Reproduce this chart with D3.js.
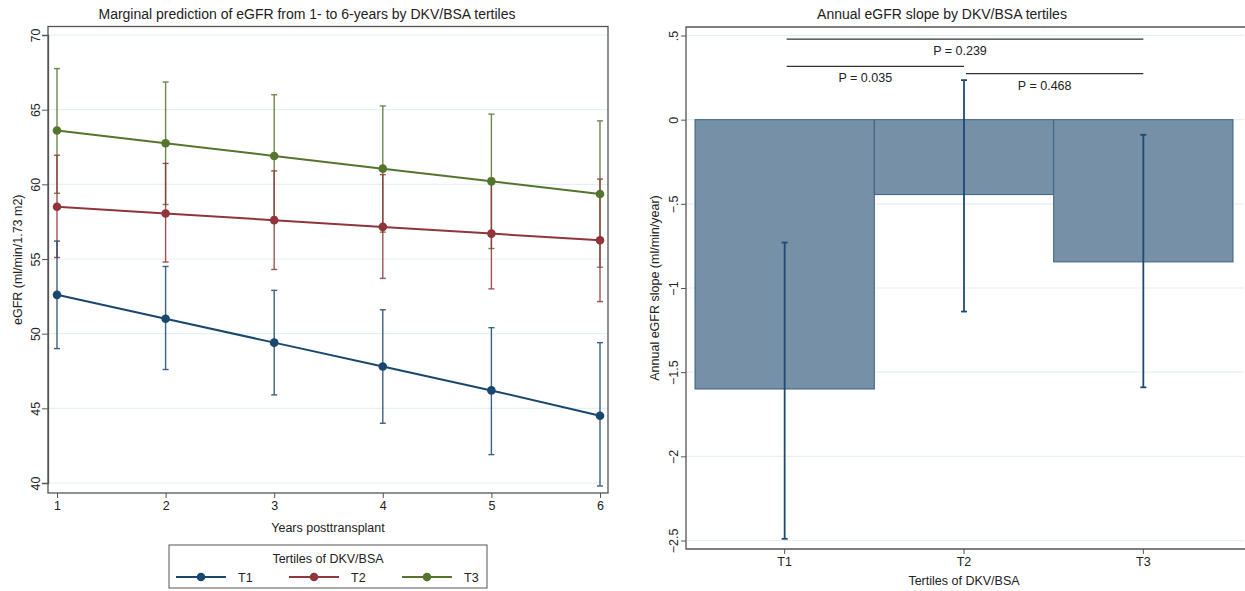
<!DOCTYPE html>
<html>
<head>
<meta charset="utf-8">
<script src="https://cdn.jsdelivr.net/npm/d3@7"></script>
<style>
  body { margin: 0; background: #fff; }
  svg { font-family: "Liberation Sans", Arial, sans-serif; }
</style>
</head>
<body>
<div id="chart"></div>
<script>
// left panel data: marginal eGFR by year and tertile
const years = [1, 2, 3, 4, 5, 6];
const t1Mean = [52.6, 51.0, 49.4, 47.8, 46.2, 44.5];
const t1Lo = [49.0, 47.6, 45.9, 44.0, 41.9, 39.8];
const t1Hi = [56.2, 54.5, 52.9, 51.6, 50.4, 49.4];
const t2Mean = [58.5, 58.05, 57.6, 57.15, 56.7, 56.25];
const t2Lo = [55.1, 54.8, 54.3, 53.7, 53.0, 52.15];
const t2Hi = [61.95, 61.4, 60.9, 60.65, 60.4, 60.35];
const t3Mean = [63.6, 62.75, 61.9, 61.05, 60.2, 59.35];
const t3Lo = [59.4, 58.65, 57.8, 56.8, 55.7, 54.45];
const t3Hi = [67.75, 66.85, 66.0, 65.25, 64.7, 64.25];
const seriesNames = ["T1", "T2", "T3"];
const leftYTicks = [40, 45, 50, 55, 60, 65, 70];

// right panel data: annual slope
const tertiles = ["T1", "T2", "T3"];
const slope = [-1.6, -0.445, -0.845];
const slopeLo = [-2.49, -1.14, -1.59];
const slopeHi = [-0.73, 0.235, -0.09];
const rightYTicks = [-2.5, -2, -1.5, -1, -0.5, 0, 0.5];
const pComparisons = [["T1", "T3"], ["T1", "T2"], ["T2", "T3"]];
const pLabels = ["P = 0.239", "P = 0.035", "P = 0.468"];

const width = 1245, height = 591;
const colors = ["#1a476f", "#90353b", "#55752f"];
const gridColor = "#e6eff1";
const frameColor = "#555";

const svg = d3.select("#chart").append("svg")
  .attr("width", width)
  .attr("height", height);

const fmtNum = v => {
  let s = String(v);
  s = s.replace(/^(-?)0\./, "$1.");
  return s.replace("-", "\u2212");
};

// ---------- left panel ----------
const L = {left: 48, right: 608, top: 26.5, bottom: 493};
const x = d3.scaleLinear().domain([1, 6]).range([57, 600]);
const y = d3.scaleLinear().domain([40, 70]).range([483, 35]);

const left = svg.append("g");

left.append("g")
  .selectAll("line")
  .data(leftYTicks)
  .join("line")
  .attr("x1", L.left).attr("x2", L.right)
  .attr("y1", d => y(d)).attr("y2", d => y(d))
  .attr("stroke", gridColor).attr("stroke-width", 1.2);

left.append("rect")
  .attr("x", L.left).attr("y", L.top)
  .attr("width", L.right - L.left).attr("height", L.bottom - L.top)
  .attr("fill", "none").attr("stroke", frameColor).attr("stroke-width", 1.3);

const yAxisL = left.append("g")
  .attr("transform", `translate(${L.left},0)`)
  .call(d3.axisLeft(y).tickValues(leftYTicks).tickSize(6).tickFormat(d3.format("d")));
yAxisL.select(".domain").attr("stroke", frameColor).attr("stroke-width", 1.3);
yAxisL.selectAll(".tick line").attr("stroke", frameColor);
yAxisL.selectAll(".tick text")
  .attr("transform", "rotate(-90)")
  .attr("x", 0).attr("y", -8).attr("dy", 0)
  .attr("text-anchor", "middle")
  .attr("font-size", 12.5).attr("fill", "#222");

const xAxisL = left.append("g")
  .attr("transform", `translate(0,${L.bottom})`)
  .call(d3.axisBottom(x).tickValues(years).tickSize(5).tickFormat(d3.format("d")));
xAxisL.select(".domain").remove();
xAxisL.selectAll(".tick line").attr("stroke", frameColor);
xAxisL.selectAll(".tick text").attr("y", 8).attr("font-size", 12.5).attr("fill", "#222");

left.append("text")
  .attr("x", (L.left + L.right) / 2).attr("y", 532)
  .attr("text-anchor", "middle").attr("font-size", 12.5).attr("fill", "#222")
  .text("Years posttransplant");

left.append("text")
  .attr("transform", `translate(22,${(L.top + L.bottom) / 2}) rotate(-90)`)
  .attr("text-anchor", "middle").attr("font-size", 12.5).attr("fill", "#222")
  .text("eGFR (ml/min/1.73 m2)");

left.append("text")
  .attr("x", 307).attr("y", 19)
  .attr("text-anchor", "middle").attr("font-size", 14).attr("fill", "#222")
  .text("Marginal prediction of eGFR from 1- to 6-years by DKV/BSA tertiles");

const series = [
  {mean: t1Mean, lo: t1Lo, hi: t1Hi},
  {mean: t2Mean, lo: t2Lo, hi: t2Hi},
  {mean: t3Mean, lo: t3Lo, hi: t3Hi}
];

// draw error bars first (T3 behind), then lines
series.slice().reverse().forEach((s, ri) => {
  const i = series.length - 1 - ri;
  const g = left.append("g").attr("stroke", colors[i]).attr("stroke-width", 1.4).attr("opacity", 0.85);
  years.forEach((yr, k) => {
    g.append("line")
      .attr("x1", x(yr)).attr("x2", x(yr))
      .attr("y1", y(s.lo[k])).attr("y2", y(s.hi[k]));
    [s.lo[k], s.hi[k]].forEach(v => {
      g.append("line")
        .attr("x1", x(yr) - 3).attr("x2", x(yr) + 3)
        .attr("y1", y(v)).attr("y2", y(v));
    });
  });
});

const line = d3.line().x((d, k) => x(years[k])).y(d => y(d));
series.forEach((s, i) => {
  left.append("path")
    .datum(s.mean)
    .attr("fill", "none")
    .attr("stroke", colors[i])
    .attr("stroke-width", 2)
    .attr("d", line);
  left.append("g")
    .selectAll("circle")
    .data(s.mean)
    .join("circle")
    .attr("cx", (d, k) => x(years[k]))
    .attr("cy", d => y(d))
    .attr("r", 4.3)
    .attr("fill", colors[i]);
});

// legend
const lg = left.append("g");
lg.append("rect")
  .attr("x", 169).attr("y", 545).attr("width", 318).attr("height", 43)
  .attr("fill", "#fff").attr("stroke", frameColor).attr("stroke-width", 1);
lg.append("text")
  .attr("x", 328).attr("y", 563)
  .attr("text-anchor", "middle").attr("font-size", 12.5).attr("fill", "#222")
  .text("Tertiles of DKV/BSA");
const legendX = d3.scaleOrdinal().domain(seriesNames).range([176, 289, 402]);
seriesNames.forEach((name, i) => {
  const lx = legendX(name);
  lg.append("line")
    .attr("x1", lx).attr("x2", lx + 50)
    .attr("y1", 577).attr("y2", 577)
    .attr("stroke", colors[i]).attr("stroke-width", 2);
  lg.append("circle")
    .attr("cx", lx + 25).attr("cy", 577).attr("r", 4.3)
    .attr("fill", colors[i]);
  lg.append("text")
    .attr("x", lx + 62).attr("y", 581.5)
    .attr("font-size", 12.5).attr("fill", "#222")
    .text(name);
});

// ---------- right panel ----------
const R = {left: 686, right: 1244, top: 27, bottom: 549};
const xb = d3.scaleBand().domain(tertiles).range([695, 1233]).padding(0);
const yr = d3.scaleLinear().domain([-2.5, 0.5]).range([540.5, 35.5]);

const right = svg.append("g");

right.append("g")
  .selectAll("line")
  .data(rightYTicks)
  .join("line")
  .attr("x1", R.left).attr("x2", R.right)
  .attr("y1", d => yr(d)).attr("y2", d => yr(d))
  .attr("stroke", gridColor).attr("stroke-width", 1.2);

right.append("path")
  .attr("d", `M${R.right + 5},${R.top}H${R.left}V${R.bottom}H${R.right + 5}`)
  .attr("fill", "none").attr("stroke", frameColor).attr("stroke-width", 1.3);

right.append("g")
  .selectAll("rect")
  .data(slope)
  .join("rect")
  .attr("x", (d, i) => xb(tertiles[i]))
  .attr("width", xb.bandwidth())
  .attr("y", d => yr(Math.max(0, d)))
  .attr("height", d => Math.abs(yr(d) - yr(0)))
  .attr("fill", "#7590a7")
  .attr("stroke", "#3d6283")
  .attr("stroke-width", 1);

const eb = right.append("g").attr("stroke", "#1f4a73").attr("stroke-width", 1.8);
tertiles.forEach((t, i) => {
  const cx = xb(t) + xb.bandwidth() / 2;
  eb.append("line")
    .attr("x1", cx).attr("x2", cx)
    .attr("y1", yr(slopeLo[i])).attr("y2", yr(slopeHi[i]));
  [slopeLo[i], slopeHi[i]].forEach(v => {
    eb.append("line")
      .attr("x1", cx - 3).attr("x2", cx + 3)
      .attr("y1", yr(v)).attr("y2", yr(v));
  });
});

const yAxisR = right.append("g")
  .attr("transform", `translate(${R.left},0)`)
  .call(d3.axisLeft(yr).tickValues(rightYTicks).tickSize(5).tickFormat(fmtNum));
yAxisR.select(".domain").remove();
yAxisR.selectAll(".tick line").attr("stroke", frameColor);
yAxisR.selectAll(".tick text")
  .attr("transform", "rotate(-90)")
  .attr("x", 0).attr("y", -8).attr("dy", 0)
  .attr("text-anchor", "middle")
  .attr("font-size", 12.5).attr("fill", "#222");

const xAxisR = right.append("g")
  .attr("transform", `translate(0,${R.bottom})`)
  .call(d3.axisBottom(xb).tickSize(5));
xAxisR.select(".domain").remove();
xAxisR.selectAll(".tick line").attr("stroke", frameColor);
xAxisR.selectAll(".tick text").attr("y", 8).attr("font-size", 12.5).attr("fill", "#222");

right.append("text")
  .attr("x", 964).attr("y", 585)
  .attr("text-anchor", "middle").attr("font-size", 12.5).attr("fill", "#222")
  .text("Tertiles of DKV/BSA");

right.append("text")
  .attr("transform", `translate(659,${(R.top + R.bottom) / 2}) rotate(-90)`)
  .attr("text-anchor", "middle").attr("font-size", 12.5).attr("fill", "#222")
  .text("Annual eGFR slope (ml/min/year)");

right.append("text")
  .attr("x", 942).attr("y", 19)
  .attr("text-anchor", "middle").attr("font-size", 14).attr("fill", "#222")
  .text("Annual eGFR slope by DKV/BSA tertiles");

// p-value brackets
const bracketLevels = [0.479, 0.316, 0.273];
const pg = right.append("g");
pComparisons.forEach((pair, i) => {
  const x1 = xb(pair[0]) + xb.bandwidth() / 2;
  const x2 = xb(pair[1]) + xb.bandwidth() / 2;
  pg.append("line")
    .attr("x1", x1 + 2).attr("x2", x2)
    .attr("y1", yr(bracketLevels[i])).attr("y2", yr(bracketLevels[i]))
    .attr("stroke", "#333").attr("stroke-width", 1.2);
  const mid = i === 0 ? xb(tertiles[1]) + xb.bandwidth() / 2 - 4 : (x1 + x2) / 2 - 9;
  pg.append("text")
    .attr("x", mid).attr("y", yr(bracketLevels[i]) + 16)
    .attr("text-anchor", "middle").attr("font-size", 12.5).attr("fill", "#222")
    .text(pLabels[i]);
});
</script>
</body>
</html>
